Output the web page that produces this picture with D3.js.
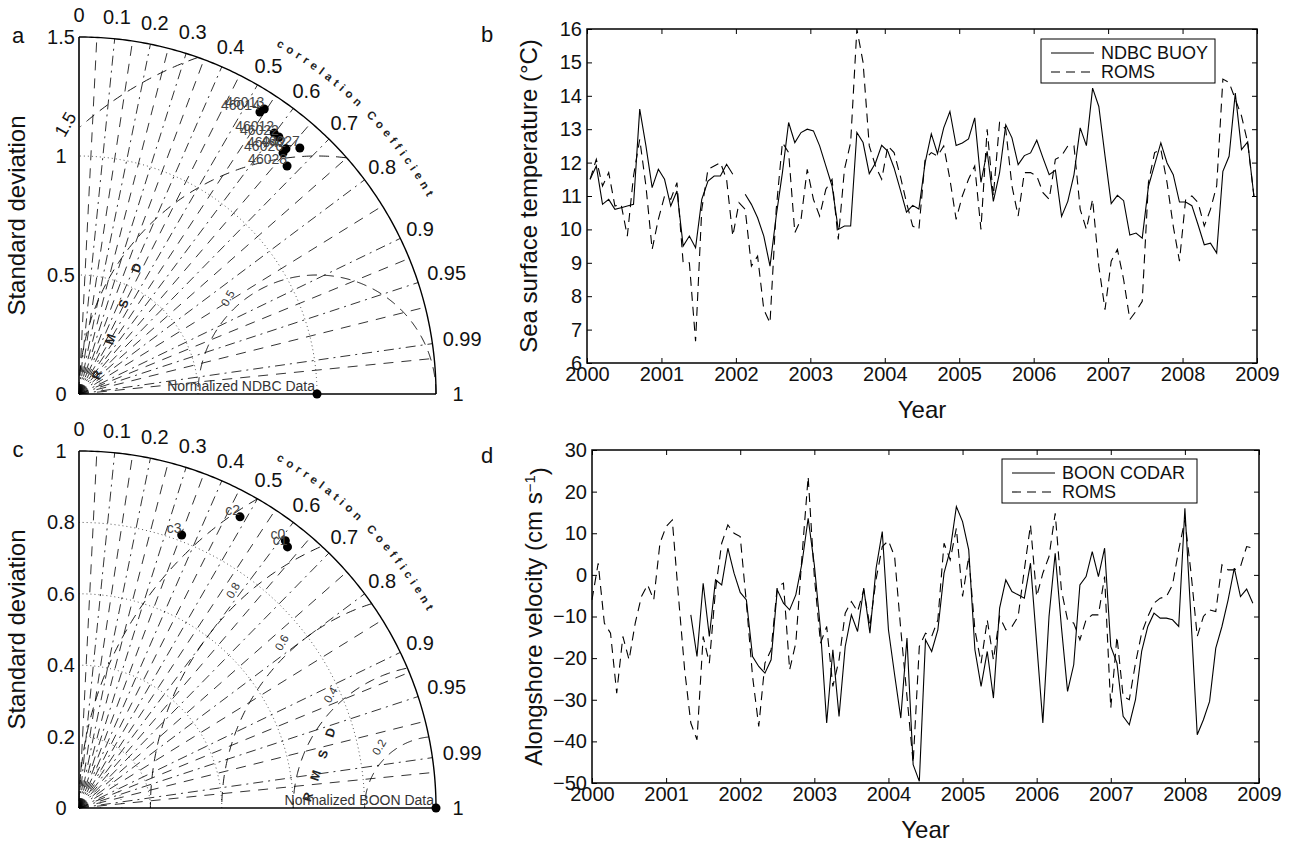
<!DOCTYPE html>
<html>
<head>
<meta charset="utf-8">
<script src="https://cdn.jsdelivr.net/npm/d3@7"></script>
<style>
  body { margin: 0; background: #fff; }
  svg text { font-family: "Liberation Sans", Arial, Helvetica, sans-serif; }
</style>
</head>
<body>
<svg id="fig" width="1293" height="847"></svg>
<script>
// ---------- Taylor diagram statistics ----------
const corrTicks = [0, 0.1, 0.2, 0.3, 0.4, 0.5, 0.6, 0.7, 0.8, 0.9, 0.95, 0.99, 1];
const corrMinor = [0.05, 0.15, 0.25, 0.35, 0.45, 0.55, 0.65, 0.75, 0.85, 0.925, 0.97, 0.995];

const ndbcStations = ["46013", "46014", "46012", "46022", "46027", "46042", "46026", "46028"];
const ndbcStd      = [1.428, 1.408, 1.369, 1.368, 1.389, 1.348, 1.327, 1.297];
const ndbcCorr     = [0.545, 0.540, 0.599, 0.614, 0.668, 0.645, 0.646, 0.674];
const ndbcStdTicks = [0, 0.5, 1, 1.5];
const ndbcStdArcs  = [0.1, 0.5, 1.0];
const ndbcRmsd     = [0.5, 1.0, 1.5];
const ndbcRmsdLabels = [0.5, 1.5];

const boonSites    = ["c0", "c1", "c2", "c3"];
const boonStd      = [0.946, 0.936, 0.932, 0.817];
const boonCorr     = [0.611, 0.624, 0.484, 0.352];
const boonStdTicks = [0, 0.2, 0.4, 0.6, 0.8, 1];
const boonStdArcs  = [0.06, 0.12, 0.2, 0.4, 0.6, 0.8];
const boonRmsd     = [0.2, 0.4, 0.6, 0.8, 1.0];
const boonRmsdLabels = [0.2, 0.4, 0.6, 0.8];

// ---------- Monthly series, Jan 2000 - Dec 2008 ----------
const years = [2000, 2001, 2002, 2003, 2004, 2005, 2006, 2007, 2008, 2009];
const sstTicks = [6, 7, 8, 9, 10, 11, 12, 13, 14, 15, 16];
const velTicks = [-50, -40, -30, -20, -10, 0, 10, 20, 30];

const sstBuoy = [
  11.5, 11.9, 10.75, 10.9, 10.6, 10.65, 10.7, 10.75, 13.6, 12.5, 11.25, 11.8,
  11.5, 10.7, 11.15, 9.5, 9.8, 9.45, 10.9, 11.45, 11.6, 11.6, 11.95, 11.65,
  null, 11.05, 10.75, 10.35, 9.8, 8.9, 10.4, 11.7, 13.2, 12.6, 12.9, 13.0,
  12.95, 12.5, 11.9, 11.3, 10.0, 10.1, 10.1, 12.9, 12.6, 11.67, 11.99, 12.52,
  12.34, 11.84, 11.19, 10.52, 10.72, 10.61, 11.99, 12.86, 12.27, 13.04, 13.53, 12.51,
  12.59, 12.71, 13.34, 11.41, 12.34, 10.84, 11.69, 13.13, 12.74, 11.94, 12.21, 12.29,
  12.67, 12.14, 11.64, 11.77, 10.39, 10.84, 11.64, 13.04, 12.51, 14.23, 13.68, 12.2,
  10.77, 11.02, 10.86, 9.83, 9.89, 9.74, 11.29, 11.94, 12.59, 11.99, 11.64, 10.82,
  10.82, 10.71, 10.14, 9.54, 9.59, 9.29, 11.74, 12.19, 14.08, 12.39, 12.62, 11.0
];
const sstRoms = [
  11.5, 12.1, 11.3, 11.7, 10.7, 10.75, 9.8, 11.6, 12.7, 11.3, 9.4, 10.3,
  11.0, 10.9, 11.4, 9.0, 9.0, 6.65, 10.6, 11.8, 11.9, 12.0, 11.5, 9.8,
  10.8, 10.6, 8.9, 9.2, 7.6, 7.2, 10.6, 12.6, 12.3, 9.9, 10.3, 11.8,
  10.9, 10.4, 11.2, 11.5, 9.7, 11.8, 12.6, 16.0, 15.0, 12.5, 11.9, 11.5,
  12.5, 12.3, 11.6, 10.8, 10.1, 10.0, 12.1, 12.3, 12.2, 12.5, 11.5, 10.3,
  11.0, 11.5, 11.9, 10.0, 13.0, 11.0, 13.2, 13.0, 11.3, 10.4, 11.7, 11.7,
  11.6, 11.1, 10.9, 12.1, 12.2, 12.5, 12.5, 10.6, 10.0, 10.9, 8.9, 7.6,
  9.05, 9.4, 8.5, 7.3, 7.55, 7.85, 11.4, 12.3, 12.4, 11.4, 10.1, 9.05,
  10.9, 11.0, 10.8, 10.1, 10.6, 11.3, 14.5, 14.4, 13.9, 13.4, 12.6, 11.0
];
const velCodar = [
  null, null, null, null, null, null, null, null, null, null, null, null,
  null, null, null, null, -9.6, -19.6, -2.0, -14.8, -1.2, -2.4, 6.4, 0.4,
  -4.2, -6.0, -19.6, -22, -23.6, -20.4, -3.6, -6.8, -8.4, -4.8, 2.8, 13.6,
  2.4, -13.2, -35.6, -18, -34, -17.2, -9.6, -13.6, -3.2, -14, 1.6, 10.4,
  -13.2, -24, -34.4, -15.2, -45.6, -49.6, -15.6, -18.4, -13.2, 0.4, 6, 16.4,
  12.8, 6, -18, -26.8, -18.4, -29.6, -8, -1.2, -4, -4.8, -5.6, 2.8,
  -16.4, -35.6, -10, 5.2, -12.4, -28, -21.6, -2.4, -0.4, 5.6, -0.4, 6.4,
  -17.2, -21.2, -34, -36, -30, -18.4, -12.4, -9.2, -10.4, -10.4, -10.8, -12.4,
  16, -10.8, -38.4, -34.8, -30.4, -17.6, -12.4, -6, 1.6, -5.2, -3.4, -6.8
];
const velRoms = [
  -6, 2.8, -11.6, -14, -28.4, -14.8, -20.4, -11.6, -5.2, -2.4, -6.0, 7.6,
  11.6, 13.2, -5.2, -22.8, -35.6, -39.6, -14.8, -21.2, -3.6, 7.6, 12, 10,
  9.2, -6.8, -24.4, -36.4, -21.2, -18, -2.8, -2, -22.8, -16.4, 4.4, 23.6,
  -0.4, -16.4, -12.4, -26.8, -20.4, -9.2, -6.4, -8.8, -3.6, -12.4, -1, 6.8,
  8.2, 4.4, -13.2, -29.2, -45.2, -17.2, -14, -14.8, -10.8, 7.6, 3.6, 11.2,
  -5.2, 4.4, -13.2, -21.2, -10.8, -20.4, -10, -13.2, -12.4, -10, 1.2, 12,
  -5.2, 0.4, 4.4, 14.8, -3.6, -10.8, -11.6, -15.6, -10.8, -9.6, -9.6, -0.4,
  -32, -14.8, -29.2, -30, -21.2, -14, -10, -6.8, -5.6, -5.2, -2.4, 6,
  13.2, 0.4, -14.8, -10, -8.4, -8.8, 2.4, 1.2, 1.2, 2, 6.8, 6.4
];

// ---------- drawing ----------
const svg = d3.select("#fig");
const deg = Math.PI / 180;

function taylor(cfg) {
  const g = svg.append("g");
  const r = d3.scaleLinear().domain([0, cfg.maxStd]).range([0, cfg.R]);
  const P = (s, th) => [cfg.cx + r(s) * Math.cos(th), cfg.cy - r(s) * Math.sin(th)];
  const XY = (x, y) => [cfg.cx + r(x), cfg.cy - r(y)];
  const line = d3.line();

  // standard deviation circles (dotted)
  cfg.stdArcs.forEach(s => {
    g.append("path")
      .attr("d", line(d3.range(0, 91, 1).map(a => P(s, a * deg))))
      .attr("fill", "none").attr("stroke", "#444").attr("stroke-width", 0.9)
      .attr("stroke-dasharray", "1,3");
  });

  // correlation rays: minor dashed, major dash-dot
  corrMinor.forEach(c => {
    const th = Math.acos(c);
    g.append("path").attr("d", line([P(0, th), P(cfg.maxStd, th)]))
      .attr("stroke", "#000").attr("stroke-width", 0.8).attr("fill", "none")
      .attr("stroke-dasharray", "10,8");
  });
  corrTicks.filter(c => c > 0 && c < 1).forEach(c => {
    const th = Math.acos(c);
    g.append("path").attr("d", line([P(0, th), P(cfg.maxStd, th)]))
      .attr("stroke", "#000").attr("stroke-width", 0.8).attr("fill", "none")
      .attr("stroke-dasharray", "10,5,2,5");
  });

  // centred RMS difference circles around the reference point (1, 0)
  const inside = p => p[0] >= -1e-9 && p[1] >= 0 && Math.hypot(p[0], p[1]) <= cfg.maxStd + 1e-9;
  cfg.rmsd.forEach(rv => {
    const pts = d3.range(0, 181, 0.5).map(a => [1 + rv * Math.cos(a * deg), rv * Math.sin(a * deg)]);
    const rl = d3.line().defined(inside).x(p => XY(p[0], p[1])[0]).y(p => XY(p[0], p[1])[1]);
    g.append("path").attr("d", rl(pts)).attr("fill", "none")
      .attr("stroke", "#000").attr("stroke-width", 0.9).attr("stroke-dasharray", "10,7");
  });
  cfg.rmsdLabels.forEach(rv => {
    const a = 133 * deg;
    const base = XY(1 + rv * Math.cos(a), rv * Math.sin(a));
    const px = base[0] + 12 * Math.cos(a), py = base[1] - 12 * Math.sin(a);
    const outside = px < cfg.cx;
    g.append("text").attr("transform", `translate(${px},${py}) rotate(-60)`)
      .attr("text-anchor", "middle").attr("dy", "0.35em")
      .attr("font-size", outside ? 18 : 11.5).attr("fill", outside ? "#111" : "#333")
      .text(rv);
  });

  // "RMSD" letters
  ["R", "M", "S", "D"].forEach((ch, i) => {
    const p = XY(cfg.letterStart[0] + i * cfg.letterStep[0], cfg.letterStart[1] + i * cfg.letterStep[1]);
    g.append("text").attr("transform", `translate(${p[0]},${p[1]}) rotate(-72)`)
      .attr("text-anchor", "middle").attr("dy", "0.35em")
      .attr("font-size", 12.5).attr("font-weight", "bold").attr("fill", "#222").text(ch);
  });

  // frame: axes and outer arc
  const outer = d3.range(0, 90.5, 0.5).map(a => P(cfg.maxStd, a * deg));
  g.append("path").attr("d", line([XY(0, 0), XY(0, cfg.maxStd)]))
    .attr("stroke", "#000").attr("stroke-width", 1.6);
  g.append("path").attr("d", line([XY(0, 0), XY(cfg.maxStd, 0)]))
    .attr("stroke", "#000").attr("stroke-width", 1.6);
  g.append("path").attr("d", line(outer)).attr("fill", "none")
    .attr("stroke", "#000").attr("stroke-width", 1.4);

  // std axis labels
  cfg.stdTicks.forEach(s => {
    g.append("text").attr("x", cfg.cx - 18).attr("y", cfg.cy - r(s)).attr("dy", "0.35em")
      .attr("text-anchor", "middle").attr("font-size", 20).attr("fill", "#111").text(s);
  });
  g.append("text")
    .attr("transform", `translate(25,${cfg.cy - cfg.R / 2}) rotate(-90)`)
    .attr("text-anchor", "middle").attr("font-size", 24).attr("fill", "#111")
    .text("Standard deviation");

  // correlation labels around the rim
  corrTicks.forEach(c => {
    const th = Math.acos(c);
    const s = String(c);
    const off = s.length > 3 ? 30 : 22;
    const p = [cfg.cx + (cfg.R + off) * Math.cos(th), cfg.cy - (cfg.R + off) * Math.sin(th)];
    g.append("text").attr("x", p[0]).attr("y", p[1]).attr("dy", "0.35em")
      .attr("text-anchor", "middle").attr("font-size", 20).attr("fill", "#111").text(s);
  });

  // rim caption along an arc
  const rad = cfg.R + 43, a0 = 60.5 * deg, a1 = 29.5 * deg;
  const s0 = [cfg.cx + rad * Math.cos(a0), cfg.cy - rad * Math.sin(a0)];
  const s1 = [cfg.cx + rad * Math.cos(a1), cfg.cy - rad * Math.sin(a1)];
  const pid = "rim-" + cfg.panel;
  svg.append("defs").append("path").attr("id", pid)
    .attr("d", `M${s0[0]},${s0[1]} A${rad},${rad} 0 0 1 ${s1[0]},${s1[1]}`);
  g.append("text").attr("font-size", 11.5).attr("font-weight", "bold").attr("fill", "#222")
    .append("textPath").attr("href", "#" + pid)
    .attr("textLength", rad * (a0 - a1)).attr("lengthAdjust", "spacing")
    .text("correlation Coefficient");

  // reference point
  const ref = XY(1, 0);
  g.append("text").attr("x", ref[0] - 2).attr("y", ref[1] - 3).attr("text-anchor", "end")
    .attr("font-size", 14).attr("fill", "#333").text(cfg.refLabel);
  g.append("circle").attr("cx", ref[0]).attr("cy", ref[1]).attr("r", 4.5).attr("fill", "#000");

  // model points
  cfg.names.forEach((n, i) => {
    const p = P(cfg.std[i], Math.acos(cfg.corr[i]));
    g.append("circle").attr("cx", p[0]).attr("cy", p[1]).attr("r", 4.5).attr("fill", "#000");
    g.append("text").attr("x", p[0]).attr("y", p[1] - 2).attr("text-anchor", "end")
      .attr("font-size", 14).attr("fill", "#444").text(n);
  });

  svg.append("text").attr("x", 18).attr("y", cfg.cy - cfg.R + 6).attr("text-anchor", "middle")
    .attr("font-size", 22).attr("fill", "#111").text(cfg.panel);
}

function series(cfg) {
  const g = svg.append("g");
  const x = d3.scaleLinear().domain([years[0], years[years.length - 1]]).range([cfg.x0, cfg.x1]);
  const y = d3.scaleLinear().domain([cfg.ticks[0], cfg.ticks[cfg.ticks.length - 1]]).range([cfg.y1, cfg.y0]);
  const t = i => years[0] + (i + cfg.offset) / 12;

  const styleAxis = sel => {
    sel.select(".domain").remove();
    sel.selectAll("line").attr("stroke", "#000").attr("stroke-width", 1);
    sel.selectAll("text").attr("font-size", 20).attr("fill", "#111")
      .attr("font-family", '"Liberation Sans", Arial, Helvetica, sans-serif');
  };
  g.append("g").attr("transform", `translate(0,${cfg.y1})`)
    .call(d3.axisBottom(x).tickValues(years).tickFormat(d3.format("d")).tickSize(-5).tickPadding(4))
    .call(styleAxis);
  g.append("g").attr("transform", `translate(0,${cfg.y0})`)
    .call(d3.axisTop(x).tickValues(years).tickFormat("").tickSize(-5)).call(styleAxis);
  g.append("g").attr("transform", `translate(${cfg.x0},0)`)
    .call(d3.axisLeft(y).tickValues(cfg.ticks).tickSize(-5).tickPadding(5)).call(styleAxis);
  g.append("g").attr("transform", `translate(${cfg.x1},0)`)
    .call(d3.axisRight(y).tickValues(cfg.ticks).tickFormat("").tickSize(-5)).call(styleAxis);

  const ln = d3.line().defined(d => d.v !== null).x(d => x(t(d.i))).y(d => y(d.v));
  const pts = arr => arr.map((v, i) => ({ i, v }));
  g.append("path").attr("d", ln(pts(cfg.dashed))).attr("fill", "none")
    .attr("stroke", "#000").attr("stroke-width", 1.1).attr("stroke-dasharray", "9,6");
  g.append("path").attr("d", ln(pts(cfg.solid))).attr("fill", "none")
    .attr("stroke", "#000").attr("stroke-width", 1.1);

  g.append("rect").attr("x", cfg.x0).attr("y", cfg.y0)
    .attr("width", cfg.x1 - cfg.x0).attr("height", cfg.y1 - cfg.y0)
    .attr("fill", "none").attr("stroke", "#000").attr("stroke-width", 1.5);

  // legend
  const L = cfg.legend;
  g.append("rect").attr("x", L.x).attr("y", L.y).attr("width", L.w).attr("height", L.h)
    .attr("fill", "#fff").attr("stroke", "#000").attr("stroke-width", 1);
  [[cfg.solidName, null], [cfg.dashedName, "9,6"]].forEach((d, k) => {
    const yy = L.y + 14 + k * 19;
    g.append("line").attr("x1", L.x + 10).attr("x2", L.x + 53).attr("y1", yy).attr("y2", yy)
      .attr("stroke", "#000").attr("stroke-width", 1.1).attr("stroke-dasharray", d[1]);
    g.append("text").attr("x", L.x + 60).attr("y", yy).attr("dy", "0.36em")
      .attr("font-size", 18).attr("fill", "#111").text(d[0]);
  });

  // titles
  g.append("text").attr("x", (cfg.x0 + cfg.x1) / 2).attr("y", cfg.y1 + 55)
    .attr("text-anchor", "middle").attr("font-size", 24).attr("fill", "#111").text("Year");
  const yl = g.append("text")
    .attr("transform", `translate(${cfg.x0 - 50},${(cfg.y0 + cfg.y1) / 2}) rotate(-90)`)
    .attr("text-anchor", "middle").attr("font-size", 24).attr("fill", "#111");
  cfg.ylabel(yl);
  svg.append("text").attr("x", 487).attr("y", cfg.y0 + 13).attr("text-anchor", "middle")
    .attr("font-size", 22).attr("fill", "#111").text(cfg.panel);
}

taylor({
  panel: "a", cx: 79, cy: 394, R: 357, maxStd: 1.5,
  stdTicks: ndbcStdTicks, stdArcs: ndbcStdArcs, rmsd: ndbcRmsd, rmsdLabels: ndbcRmsdLabels,
  names: ndbcStations, std: ndbcStd, corr: ndbcCorr,
  refLabel: "Normalized NDBC Data",
  letterStart: [0.076, 0.08], letterStep: [0.055, 0.15]
});
taylor({
  panel: "c", cx: 79, cy: 808, R: 357, maxStd: 1.0,
  stdTicks: boonStdTicks, stdArcs: boonStdArcs, rmsd: boonRmsd, rmsdLabels: boonRmsdLabels,
  names: boonSites, std: boonStd, corr: boonCorr,
  refLabel: "Normalized BOON Data",
  letterStart: [0.641, 0.031], letterStep: [0.021, 0.06]
});

series({
  panel: "b", x0: 587, x1: 1257, y0: 29, y1: 363, ticks: sstTicks, offset: 0.5,
  solid: sstBuoy, dashed: sstRoms, solidName: "NDBC BUOY", dashedName: "ROMS",
  legend: { x: 1041, y: 39, w: 174, h: 44 },
  ylabel: t => t.text("Sea surface temperature (°C)")
});
series({
  panel: "d", x0: 592, x1: 1259, y0: 450, y1: 783, ticks: velTicks, offset: 0,
  solid: velCodar, dashed: velRoms, solidName: "BOON CODAR", dashedName: "ROMS",
  legend: { x: 1002, y: 459, w: 195, h: 44 },
  ylabel: t => {
    t.append("tspan").text("Alongshore velocity (cm s");
    t.append("tspan").attr("dy", "-0.5em").attr("font-size", 15).text("−1");
    t.append("tspan").attr("dy", "0.5em").text(")");
  }
});
</script>
</body>
</html>
